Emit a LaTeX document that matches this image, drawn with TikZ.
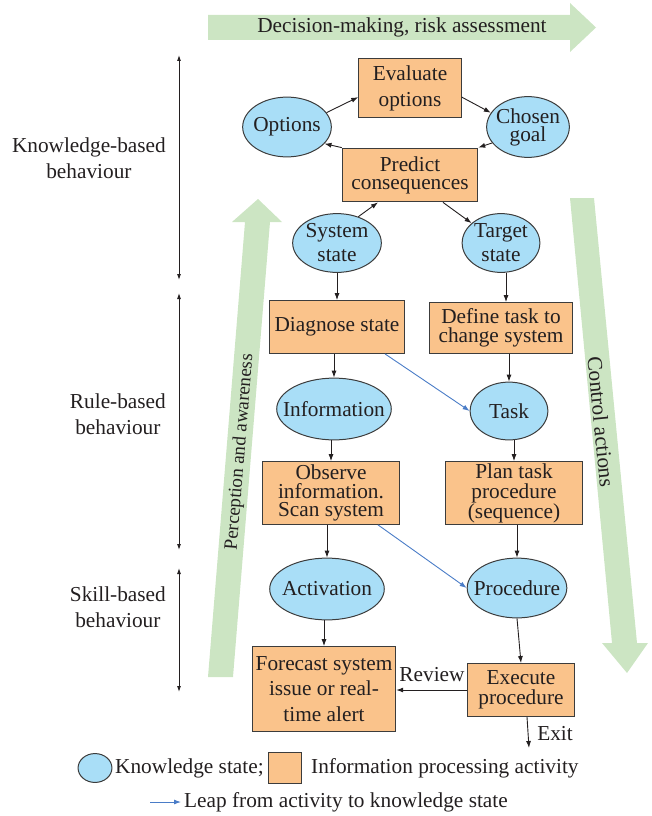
\documentclass[tikz,border=0pt]{standalone}
\usepackage{fontspec}
\setmainfont{Liberation Serif}
\usetikzlibrary{shapes.geometric,arrows.meta,calc}

\definecolor{band}{HTML}{CCE5C3}
\definecolor{actfill}{HTML}{FAC38B}
\definecolor{knofill}{HTML}{A9DEF7}
\definecolor{ink}{HTML}{231F20}
\definecolor{edgegray}{HTML}{3C3C3C}
\definecolor{leapblue}{HTML}{4A7CC7}

% text at one size, leading given per node
\newcommand\fs[1]{\fontsize{21.3bp}{#1bp}\selectfont}

\tikzset{
  actbox/.style={rectangle, draw=edgegray, line width=1bp, fill=actfill, inner sep=0pt, align=center, text=ink},
  kell/.style={ellipse, draw=edgegray, line width=1bp, fill=knofill, inner sep=0pt},
  ktext/.style={align=center, text=ink, inner sep=0pt},
  conn/.style={draw=ink, line width=0.9bp, -{Latex[length=7bp,width=5bp]}},
  leapconn/.style={draw=leapblue, line width=0.9bp, -{Latex[length=7bp,width=5bp]}},
  span/.style={draw=ink, line width=0.9bp, {Latex[length=6bp,width=4bp]}-{Latex[length=6bp,width=4bp]}},
  lab/.style={text=ink, inner sep=0pt},
}

\begin{document}
\begin{tikzpicture}[x=1bp, y=-1bp, font=\fs{25}]
\useasboundingbox (0,0) rectangle (652,816);

% broad green flow arrows
\fill[band] (208,15) -- (570,15) -- (570,3) -- (596,27.5) -- (570,52) -- (570,40) -- (208,40) -- cycle;
\node[lab] (topband) at (402,27) {Decision-making, risk assessment};

\fill[band] (208,677) -- (233,677) -- (270,222) -- (282,222) -- (258,199) -- (232,222) -- (245,222) -- cycle;
\node[lab, font=\fontsize{19bp}{20bp}\selectfont, rotate=85.3] (perc) at (240,452) {Perception and awareness};

\fill[band] (570,198) -- (594,198) -- (637,643) -- (648,643) -- (627,673) -- (602,643) -- (612,643) -- cycle;
\node[lab, rotate=-84.4] (ctrl) at (601,422) {Control actions};

% knowledge-based loop
\node[actbox, minimum width=103, minimum height=60, font=\fs{26}] (eval) at (410,88) {Evaluate\\options};
\node[kell, minimum width=89, minimum height=60] (opt) at (287,127) {};
\node[ktext] at (opt) {Options};
\node[kell, minimum width=83, minimum height=61] (goal) at (528,127) {};
\node[ktext, font=\fs{18}] at (goal) {Chosen\\goal};
\node[actbox, minimum width=136, minimum height=54, font=\fs{18}] (pred) at (410,175) {Predict\\consequences};

\node[kell, minimum width=89, minimum height=59] (sys) at (337,243) {};
\node[ktext, font=\fs{24}] at (sys) {System\\state};
\node[kell, minimum width=78, minimum height=59] (tgt) at (501,243) {};
\node[ktext, font=\fs{24}] at (tgt) {Target\\state};

% rule-based chain
\node[actbox, minimum width=135, minimum height=53] (diag) at (337,327) {Diagnose state};
\node[actbox, minimum width=143, minimum height=51, font=\fs{19}] (def) at (501,328) {Define task to\\change system};
\node[kell, minimum width=115, minimum height=62] (info) at (334,409) {};
\node[ktext] at (info) {Information};
\node[kell, minimum width=78, minimum height=58] (task) at (509,411) {};
\node[ktext] at (task) {Task};
\node[actbox, minimum width=137, minimum height=63, font=\fs{18.5}] (obs) at (331,493) {Observe\\information.\\Scan system};
\node[actbox, minimum width=138, minimum height=63, font=\fs{20}] (plan) at (514,493) {Plan task\\procedure\\(sequence)};

% skill-based chain
\node[kell, minimum width=115, minimum height=62] (actv) at (327,589) {};
\node[ktext] at (actv) {Activation};
\node[kell, minimum width=100, minimum height=60] (proc) at (517,588) {};
\node[ktext] at (proc) {Procedure};
\node[actbox, minimum width=144, minimum height=85, font=\fs{25.5}] (fc) at (324,689) {Forecast system\\issue or real-\\time alert};
\node[actbox, minimum width=107, minimum height=53, font=\fs{19.5}] (exec) at (521,690) {Execute\\procedure};

% loop connectors
\draw[conn] (opt.20) -- (eval.190);
\draw[conn] (eval.-10) -- (goal.159);
\draw[conn] (goal.204) -- (pred.north east);
\draw[conn] (pred.north west) -- (opt.-24);
\draw[conn] (sys.51) -- ($(pred.south)+(-32,0)$);
\draw[conn] ($(pred.south)+(33,0)$) -- (tgt.146);

% downward chains
\coordinate (tgtfoot) at ([xshift=5bp]tgt.south);
\draw[conn] (sys.south) -- (sys.south |- diag.north);
\draw[conn] (tgtfoot) -- (tgtfoot |- def.north);
\draw[conn] (info.north |- diag.south) -- (info.north);
\draw[conn] (task.north |- def.south) -- (task.north);
\draw[conn] (obs.north |- info.south) -- (obs.north);
\draw[conn] (plan.north |- task.south) -- (plan.north);
\draw[conn] (actv.north |- obs.south) -- (actv.north);
\draw[conn] (proc.north |- plan.south) -- (proc.north);
\draw[conn] (fc.north |- actv.south) -- (fc.north);
\draw[conn] (proc.south) -- (exec.north);

% leaps
\draw[leapconn] ([xshift=48bp]diag.south) -- (task.west);
\draw[leapconn] ([xshift=47bp]obs.south) -- (proc.west);

% review and exit
\draw[conn] (exec.west) -- (exec.west -| fc.east);
\node[lab] (rev) at (432,675) {Review};
\coordinate (exitend) at (529,748);
\draw[conn] ([xshift=6bp]exec.south) -- (exitend);
\node[lab] (exitlab) at (555,734) {Exit};

% behaviour levels
\coordinate (k1) at (179,55);  \coordinate (k2) at (179,280);
\coordinate (r1) at (179,293); \coordinate (r2) at (179,550);
\coordinate (s1) at (179,568); \coordinate (s2) at (179,692);
\draw[span] (k1) -- (k2);
\draw[span] (r1) -- (r2);
\draw[span] (s1) -- (s2);
\node[lab, align=center, anchor=east, font=\fs{26}] (kb) at (166,158) {Knowledge-based\\behaviour};
\node[lab, align=center, anchor=east, font=\fs{26}] (rb) at (166,414) {Rule-based\\behaviour};
\node[lab, align=center, anchor=east, font=\fs{26}] (sb) at (166,607) {Skill-based\\behaviour};

% key
\node[kell, minimum width=34, minimum height=29] (legk) at (95,768) {};
\node[lab, anchor=west] (legkt) at (115,768) {Knowledge state;};
\node[actbox, minimum width=34, minimum height=31] (lega) at (285,768) {};
\node[lab, anchor=west] (legat) at (311,768) {Information processing activity};
\coordinate (lg1) at (150,802);
\coordinate (lg2) at (181,802);
\draw[leapconn] (lg1) -- (lg2);
\node[lab, anchor=west] (leglt) at (184,802) {Leap from activity to knowledge state};
\end{tikzpicture}
\end{document}
